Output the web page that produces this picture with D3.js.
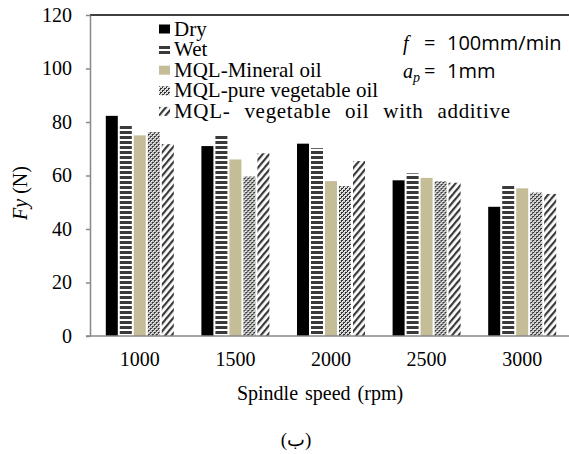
<!DOCTYPE html>
<html><head><meta charset="utf-8">
<script src="https://cdn.jsdelivr.net/npm/d3@7"></script>
<style>body{margin:0;background:#fff}svg{display:block}
.serif{font-family:"Liberation Serif","Times New Roman",Times,"DejaVu Serif",serif;}
.sans{font-family:"Open Sans","DejaVu Sans",sans-serif;}
</style>
</head><body>
<svg id="chart" width="569" height="454"></svg>
<script>
const categories = ["1000","1500","2000","2500","3000"];
const seriesNames = ["Dry","Wet","MQL-Mineral oil","MQL-pure vegetable oil","MQL- vegetable oil with additive"];
const dryValues      = [82.3, 71.0, 71.9, 58.2, 48.3];
const wetValues      = [79.0, 74.9, 70.2, 60.8, 56.1];
const mineralValues  = [75.0, 66.0, 57.9, 59.1, 55.2];
const pureValues     = [76.2, 59.6, 56.0, 57.9, 53.6];
const additiveValues = [71.7, 68.3, 65.4, 57.3, 53.1];
const yTicks = [0,20,40,60,80,100,120];

const allSeries = [dryValues, wetValues, mineralValues, pureValues, additiveValues];
const fills = ["#000000","url(#pWet)","#C4BD97","url(#pPure)","url(#pAdd)"];

const svg = d3.select("#chart");
const defs = svg.append("defs");
const pw = defs.append("pattern").attr("id","pWet").attr("patternUnits","userSpaceOnUse")
  .attr("width",4).attr("height",5);
pw.append("rect").attr("width",4).attr("height",5).attr("fill","#fff");
pw.append("rect").attr("y",1).attr("width",4).attr("height",3).attr("fill","#3a3a3a");
const pp = defs.append("pattern").attr("id","pPure").attr("patternUnits","userSpaceOnUse")
  .attr("width",4).attr("height",4);
pp.append("rect").attr("width",4).attr("height",4).attr("fill","#d0d0d0");
pp.append("rect").attr("x",0).attr("y",0).attr("width",2).attr("height",2).attr("fill","#333");
pp.append("rect").attr("x",2).attr("y",2).attr("width",2).attr("height",2).attr("fill","#333");
pp.append("rect").attr("x",1).attr("y",1).attr("width",1).attr("height",1).attr("fill","#fff");
pp.append("rect").attr("x",3).attr("y",3).attr("width",1).attr("height",1).attr("fill","#fff");
const pa = defs.append("pattern").attr("id","pAdd").attr("patternUnits","userSpaceOnUse")
  .attr("width",5).attr("height",5).attr("patternTransform","rotate(40)");
pa.append("rect").attr("width",5).attr("height",5).attr("fill","#fff");
pa.append("rect").attr("width",2.2).attr("height",5).attr("fill","#3a3a3a");

const x0 = d3.scaleBand().domain(categories).range([92,570]).padding(0);
const x1 = d3.scaleBand().domain(d3.range(5)).range([0,68]).paddingInner(2/14).paddingOuter(0);
const y = d3.scaleLinear().domain([0,120]).range([336,15]);

svg.append("line").attr("x1",90).attr("x2",569).attr("y1",y(120)).attr("y2",y(120))
  .attr("stroke","#000").attr("stroke-width",1.3);

const groups = svg.append("g").selectAll("g").data(categories).join("g")
  .attr("transform",d=>`translate(${x0(d)+x0.bandwidth()/2-34},0)`);
groups.selectAll("rect").data((c,i)=>allSeries.map((s,k)=>({k,v:s[i]}))).join("rect")
  .attr("x",d=>x1(d.k)).attr("width",x1.bandwidth())
  .attr("y",d=>y(d.v)).attr("height",d=>y(0)-y(d.v))
  .attr("fill",d=>fills[d.k]);

const yAxis = svg.append("g").attr("transform","translate(90,0)")
  .call(d3.axisLeft(y).tickValues(yTicks).tickSize(4).tickPadding(14).tickSizeOuter(0));
yAxis.attr("font-family",null).attr("font-size",null);
yAxis.select(".domain").attr("stroke","#888").attr("stroke-width",1.5);
yAxis.selectAll(".tick line").attr("stroke","#888").attr("stroke-width",1.5);
yAxis.selectAll("text").attr("class","serif").style("font-size","20px").attr("fill","#000");

const xAxis = svg.append("g").attr("transform","translate(0,336)")
  .call(d3.axisBottom(x0).tickSize(0).tickPadding(16).tickSizeOuter(0));
xAxis.attr("font-family",null).attr("font-size",null);
xAxis.select(".domain").remove();
svg.append("line").attr("x1",86).attr("x2",569).attr("y1",336).attr("y2",336)
  .attr("stroke","#888").attr("stroke-width",1.5);
xAxis.selectAll("text").attr("class","serif").style("font-size","20px").attr("fill","#000");

svg.append("text").attr("class","serif").attr("x",320).attr("y",400).attr("text-anchor","middle")
  .style("font-size","20px").style("word-spacing","2px")
  .text("Spindle speed (rpm)");
const yt = svg.append("text").attr("class","serif").attr("transform","translate(27,193) rotate(-90)")
  .attr("text-anchor","middle").style("font-size","20px");
yt.append("tspan").style("font-style","italic").text("Fy");
yt.append("tspan").text(" (N)");

const legY = [29,49.6,70.2,90.8,111.4];
const leg = svg.append("g");
seriesNames.forEach((n,i)=>{
  leg.append("rect").attr("x",159).attr("y",legY[i]-4.5).attr("width",11).attr("height",9).attr("fill",fills[i]);
  leg.append("text").attr("class","serif").attr("x",174).attr("y",legY[i]+6.5)
    .style("font-size","21px")
    .style("word-spacing", i===4?"8px":"0px")
    .style("letter-spacing", i===4?"0.7px":"0px").text(n);
});

const a1 = svg.append("text").attr("x",403).attr("y",50).style("font-size","20px");
a1.append("tspan").attr("class","serif").style("font-style","italic").text("f");
a1.append("tspan").attr("class","sans").attr("x",424).text("=");
a1.append("tspan").attr("class","sans").attr("x",447).text("100mm/min");
const a2 = svg.append("text").attr("x",403).attr("y",78).style("font-size","20px");
a2.append("tspan").attr("class","serif").style("font-style","italic").text("a");
a2.append("tspan").attr("class","serif").style("font-style","italic").style("font-size","14px").attr("dy",4).text("p");
a2.append("tspan").attr("class","sans").attr("x",424).attr("dy",-4).text("=");
a2.append("tspan").attr("class","sans").attr("x",447).text("1mm");

svg.append("text").attr("class","serif").attr("x",296).attr("y",446).attr("text-anchor","middle")
  .style("font-size","19px").text("(ب)");
</script>
</body></html>
